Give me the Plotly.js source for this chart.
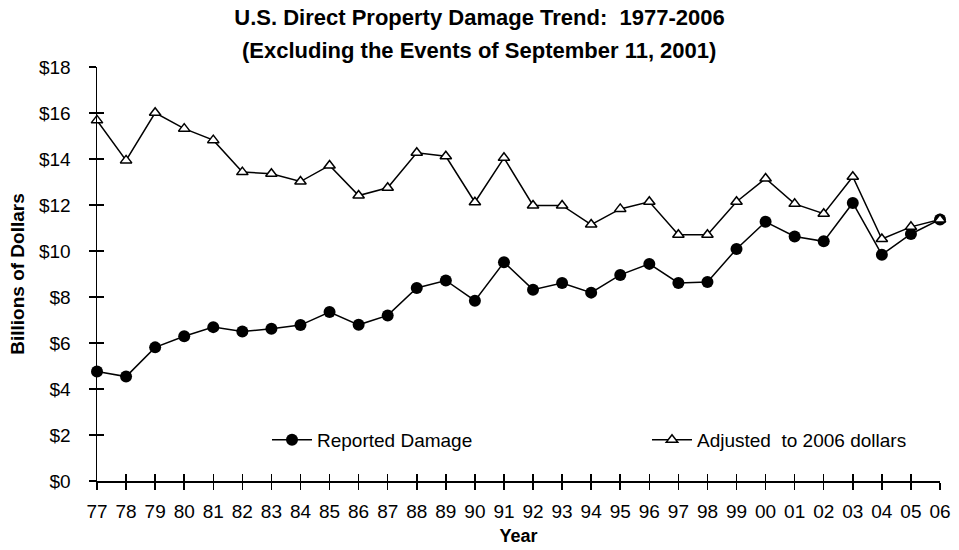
<!DOCTYPE html>
<html><head><meta charset="utf-8">
<script src="https://cdn.plot.ly/plotly-3.0.1.min.js"></script>
<style>html,body{margin:0;padding:0;background:#fff}#chart{width:959px;height:550px}</style>
</head><body><div id="chart"></div>
<script>
const years = ['77','78','79','80','81','82','83','84','85','86','87','88','89','90','91','92','93','94','95','96','97','98','99','00','01','02','03','04','05','06'];
const reportedDamage = [4.76,4.54,5.81,6.29,6.69,6.50,6.62,6.78,7.35,6.79,7.20,8.39,8.72,7.84,9.51,8.32,8.61,8.19,8.96,9.44,8.61,8.65,10.09,11.27,10.63,10.42,12.09,9.84,10.74,11.37];
const adjusted2006 = [15.68,13.94,16.01,15.32,14.82,13.43,13.36,13.02,13.72,12.41,12.75,14.27,14.12,12.12,14.05,11.98,11.98,11.15,11.83,12.14,10.71,10.71,12.14,13.15,12.05,11.62,13.23,10.52,11.05,11.37];
const yTicks = [0,2,4,6,8,10,12,14,16,18];
const yTickText = ['$0','$2','$4','$6','$8','$10','$12','$14','$16','$18'];

const FONT = 'Liberation Sans, Arial, sans-serif';

const traces = [
  {x: years, y: reportedDamage, name: 'Reported Damage', type: 'scatter', mode: 'lines+markers',
   line: {color: '#000', width: 1.5}, marker: {symbol: 'circle', size: 12, color: '#000'},
   cliponaxis: false, legend: 'legend'},
  {x: years, y: adjusted2006, name: 'Adjusted&nbsp; to 2006 dollars', type: 'scatter', mode: 'lines+markers',
   line: {color: '#000', width: 1.5}, marker: {symbol: 'triangle-up', size: 10, color: '#fff', line: {color: '#000', width: 1.5}},
   cliponaxis: false, legend: 'legend2'},
  {x: years, y: adjusted2006, xaxis: 'x2', yaxis: 'y2', type: 'scatter', mode: 'markers',
   marker: {opacity: 0}, showlegend: false, hoverinfo: 'skip'}
];

const layout = {
  width: 959, height: 550,
  margin: {l: 97, r: 19, t: 67, b: 69},
  paper_bgcolor: '#fff', plot_bgcolor: '#fff',
  font: {family: FONT, color: '#000', size: 19},
  showlegend: true,
  title: {text: '<b>U.S. Direct Property Damage Trend:  1977-2006</b>', font: {family: FONT, size: 22, color: '#000'},
          x: 0.5, xref: 'container', xanchor: 'center', y: 1 - 17/550, yref: 'container', yanchor: 'middle'},
  annotations: [{text: '<b>(Excluding the Events of September 11, 2001)</b>', xref: 'paper', yref: 'paper',
                 x: (479-97)/843, y: (481-50)/414, xanchor: 'center', yanchor: 'middle', showarrow: false,
                 font: {family: FONT, size: 22, color: '#000'}}],
  xaxis: {type: 'category', range: [0, 29], showgrid: false, zeroline: false,
          showline: true, linecolor: '#000', linewidth: 1.5,
          ticks: 'outside', ticklen: 7, tickwidth: 1.5, tickcolor: '#000',
          ticklabelstandoff: 6, tickfont: {size: 19},
          title: {text: '<b>Year</b>', font: {size: 18}, standoff: 8}},
  yaxis: {range: [0, 18], tickmode: 'array', tickvals: yTicks, ticktext: yTickText, showgrid: false, zeroline: false,
          showline: true, linecolor: '#000', linewidth: 1.5,
          ticks: 'outside', ticklen: 7, tickwidth: 1.5, tickcolor: '#000',
          ticklabelstandoff: 14, tickfont: {size: 19},
          title: {text: '<b>Billions of Dollars</b>', font: {size: 19}, standoff: 9}},
  xaxis2: {type: 'category', range: [0, 29], overlaying: 'x', anchor: 'y2', side: 'bottom', showgrid: false, zeroline: false,
           showline: false, ticks: 'inside', ticklen: 7, tickwidth: 1.5, tickcolor: '#000', showticklabels: false},
  yaxis2: {range: [0, 18], tickvals: yTicks, overlaying: 'y', anchor: 'x2', side: 'left', showgrid: false, zeroline: false,
           showline: false, ticks: 'inside', ticklen: 7, tickwidth: 1.5, tickcolor: '#000', showticklabels: false},
  legend: {orientation: 'h', x: (267-97)/843, y: (481-440)/414, xanchor: 'left', yanchor: 'middle',
           bgcolor: 'rgba(0,0,0,0)', borderwidth: 0, font: {size: 19}, itemwidth: 40},
  legend2: {orientation: 'h', x: (647-97)/843, y: (481-440)/414, xanchor: 'left', yanchor: 'middle',
           bgcolor: 'rgba(0,0,0,0)', borderwidth: 0, font: {size: 19}, itemwidth: 40}
};

Plotly.newPlot('chart', traces, layout, {displayModeBar: false, staticPlot: true});
</script></body></html>
